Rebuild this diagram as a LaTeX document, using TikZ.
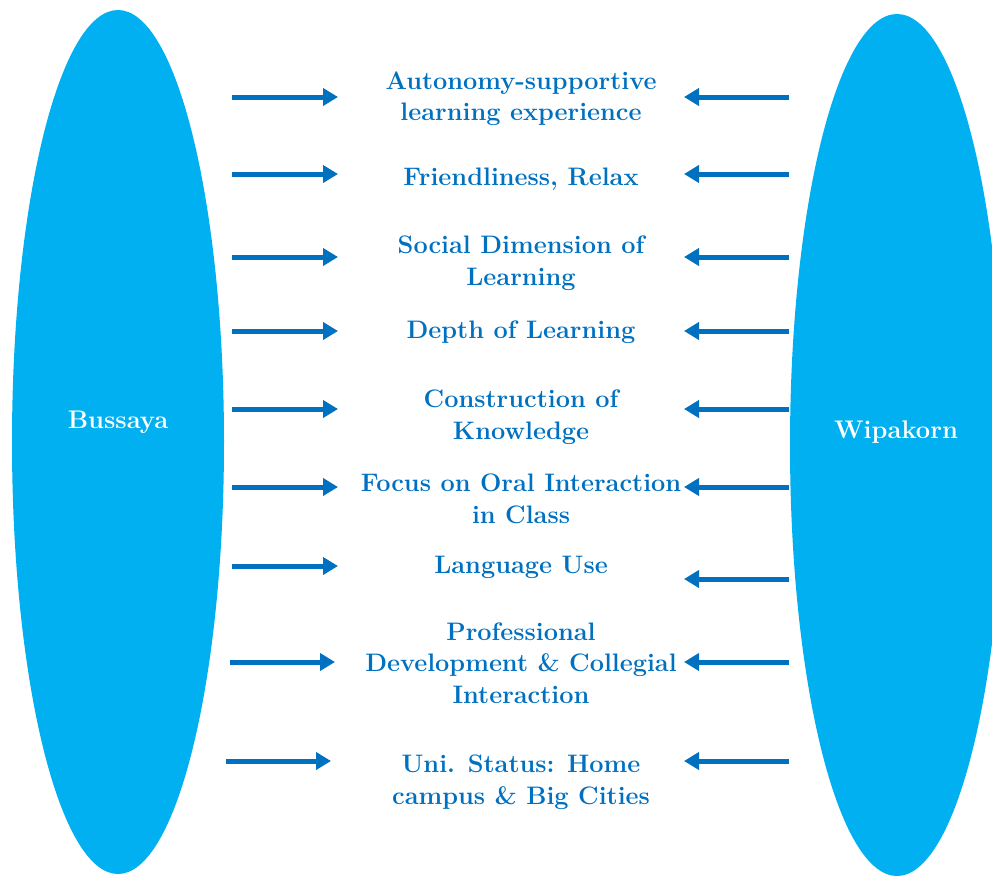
\documentclass[tikz,border=0pt]{standalone}
\usepackage{fontspec}
\usetikzlibrary{arrows.meta,shapes.geometric}
\definecolor{ovalblue}{HTML}{00B0F0}
\definecolor{themeblue}{HTML}{0070C0}
\tikzset{
  oval/.style={ellipse,fill=ovalblue,draw=none,inner sep=0pt},
  ovallabel/.style={text=white,font=\bfseries\fontsize{25.5}{30}\selectfont},
  theme/.style={text=themeblue,align=center,inner sep=0pt,
    font=\bfseries\fontsize{25.3}{31.5}\selectfont},
  flow/.style={draw=themeblue,line width=5pt,-{Triangle[length=15pt,width=17pt]}}
}
\begin{document}
\begin{tikzpicture}[x=1pt,y=-1pt]
      \useasboundingbox (0,0) rectangle (992,875);
      \clip (0,0) rectangle (992,875);
      % the two ovals
      \node[oval,minimum width=212pt,minimum height=864pt] (bussaya) at (118,442) {};
      \node[oval,minimum width=214pt,minimum height=862pt] (wipakorn) at (897,445) {};
      \node[ovallabel] (bussayaname) at (118,422) {Bussaya};
      \node[ovallabel] (wipakornname) at (896,432) {Wipakorn};
      % themes in the middle
      \node[theme] (t1) at (521,98.5) {Autonomy-supportive\\learning experience};
      \node[theme] (t2) at (521,179) {Friendliness, Relax};
      \node[theme] (t3) at (521,263) {Social Dimension of\\Learning};
      \node[theme] (t4) at (521,332) {Depth of Learning};
      \node[theme] (t5) at (521,417) {Construction of\\Knowledge};
      \node[theme] (t6) at (521,499) {Focus on Oral Interaction\\in Class};
      \node[theme] (t7) at (521,567) {Language Use};
      \node[theme] (t8) at (521,663) {Professional\\Development \& Collegial\\Interaction};
      \node[theme] (t9) at (521,782) {Uni. Status: Home\\campus \& Big Cities};
      % arrow ends
      \coordinate (l1) at (232,97);  \coordinate (m1) at (338,97);
      \coordinate (l2) at (232,174); \coordinate (m2) at (338,174);
      \coordinate (l3) at (232,257); \coordinate (m3) at (338,257);
      \coordinate (l4) at (232,331); \coordinate (m4) at (338,331);
      \coordinate (l5) at (232,409); \coordinate (m5) at (338,409);
      \coordinate (l6) at (232,487); \coordinate (m6) at (338,487);
      \coordinate (l7) at (232,566); \coordinate (m7) at (338,566);
      \coordinate (l8) at (230,662); \coordinate (m8) at (335,662);
      \coordinate (l9) at (226,761); \coordinate (m9) at (331,761);
      \coordinate (r1) at (789,97);  \coordinate (n1) at (684,97);
      \coordinate (r2) at (789,174); \coordinate (n2) at (684,174);
      \coordinate (r3) at (789,257); \coordinate (n3) at (684,257);
      \coordinate (r4) at (789,331); \coordinate (n4) at (684,331);
      \coordinate (r5) at (789,409); \coordinate (n5) at (684,409);
      \coordinate (r6) at (789,487); \coordinate (n6) at (684,487);
      \coordinate (r7) at (789,579); \coordinate (n7) at (684,579);
      \coordinate (r8) at (789,662); \coordinate (n8) at (684,662);
      \coordinate (r9) at (789,761); \coordinate (n9) at (684,761);
      \begin{scope}[flow]
        \draw (l1) -- (m1);
        \draw (l2) -- (m2);
        \draw (l3) -- (m3);
        \draw (l4) -- (m4);
        \draw (l5) -- (m5);
        \draw (l6) -- (m6);
        \draw (l7) -- (m7);
        \draw (l8) -- (m8);
        \draw (l9) -- (m9);
        \draw (r1) -- (n1);
        \draw (r2) -- (n2);
        \draw (r3) -- (n3);
        \draw (r4) -- (n4);
        \draw (r5) -- (n5);
        \draw (r6) -- (n6);
        \draw (r7) -- (n7);
        \draw (r8) -- (n8);
        \draw (r9) -- (n9);
      \end{scope}
    \end{tikzpicture}
\end{document}
